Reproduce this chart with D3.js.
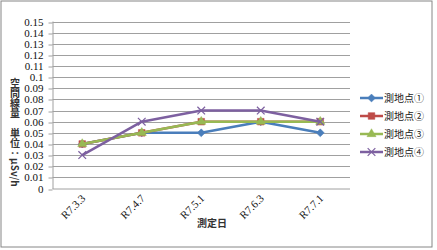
<!DOCTYPE html>
<html><head><meta charset="utf-8">
<script src="https://cdn.jsdelivr.net/npm/d3@7"></script>
<style>body{margin:0;background:#fff}svg{display:block}</style>
</head><body>
<svg id="c" width="437" height="250"></svg>
<script>
const categories = ["R7.3.3","R7.4.7","R7.5.1","R7.6.3","R7.7.1"];
const seriesNames = ["測地点①","測地点②","測地点③","測地点④"];
const s1 = [0.04,0.05,0.05,0.06,0.05];
const s2 = [0.04,0.05,0.06,0.06,0.06];
const s3 = [0.04,0.05,0.06,0.06,0.06];
const s4 = [0.03,0.06,0.07,0.07,0.06];
const yTicks = [0,0.01,0.02,0.03,0.04,0.05,0.06,0.07,0.08,0.09,0.1,0.11,0.12,0.13,0.14,0.15];
const yTitle = "空間線量　単位：μSv/h";
const xTitle = "測定日";

const colors = ["#4a7ebb","#be4b48","#98b954","#7d60a0"];
const symbols = [d3.symbolDiamond2, d3.symbolSquare, d3.symbolTriangle, d3.symbolX];
const symSizes = [40, 44, 36, 40];
const series = [s1,s2,s3,s4];

const svg = d3.select("#c");
svg.append("rect").attr("x",1).attr("y",1).attr("width",431).attr("height",246)
  .attr("fill","#fff").attr("stroke","#868686").attr("stroke-width",1);

const L=52.5, R=350, T=21.5, B=188.5;
const x = d3.scalePoint().domain(categories).range([L,R]).padding(0.5);
const y = d3.scaleLinear().domain([0,0.15]).range([B,T]);

// gridlines
svg.append("g").selectAll("line").data(yTicks.filter(d=>d>0)).join("line")
  .attr("x1",L).attr("x2",R).attr("y1",d=>Math.round(y(d))+0.5).attr("y2",d=>Math.round(y(d))+0.5)
  .attr("stroke","#a0a0a0").attr("stroke-width",1);

// y axis
const ya = svg.append("g").attr("transform",`translate(${L},0)`)
  .call(d3.axisLeft(y).tickValues(yTicks).tickSize(4).tickPadding(5).tickFormat(d=>String(+d.toFixed(2))));
ya.select(".domain").attr("stroke","#a0a0a0").attr("d",`M0.5,${T}V${B+0.5}`);
ya.selectAll(".tick line").attr("stroke","#a0a0a0").attr("transform",d=>`translate(0,${Math.round(y(d))+0.5-y(d)})`);
ya.selectAll(".tick text").attr("font-family","'Liberation Serif','Times New Roman',serif")
  .attr("font-size",11).attr("fill","#111");

// x axis
svg.append("line").attr("x1",L).attr("x2",R).attr("y1",B+0.5).attr("y2",B+0.5).attr("stroke","#a0a0a0");
svg.append("g").selectAll("text").data(categories).join("text")
  .attr("transform",d=>`translate(${x(d)+4},199) rotate(-45)`)
  .attr("text-anchor","end").attr("font-family","'Liberation Serif','Times New Roman',serif")
  .attr("font-size",11).attr("fill","#111").text(d=>d);

// titles
svg.append("text").attr("x",212).attr("y",227).attr("text-anchor","middle")
  .attr("font-family","'Noto Sans CJK JP',sans-serif").attr("font-size",10).attr("font-weight","bold")
  .attr("fill","#333").text(xTitle);
svg.append("text").attr("x",15).attr("y",78)
  .style("writing-mode","vertical-rl").style("text-orientation","mixed")
  .attr("font-family","'Noto Sans CJK JP',sans-serif").attr("font-size",10).attr("font-weight","bold")
  .attr("fill","#333").text(yTitle);

// series
const line = d3.line().x((d,i)=>x(categories[i])).y(d=>y(d));
series.forEach((s,k)=>{
  const g = svg.append("g");
  g.append("path").datum(s).attr("d",line).attr("fill","none")
    .attr("stroke",colors[k]).attr("stroke-width",2.5).attr("stroke-linejoin","round");
  g.selectAll("path.m").data(s).join("path").attr("class","m")
    .attr("transform",(d,i)=>`translate(${x(categories[i])},${y(d)})`)
    .attr("d",d3.symbol().type(symbols[k]).size(symSizes[k]))
    .attr("fill",k===3?"none":colors[k]).attr("stroke",colors[k]).attr("stroke-width",k===3?1.2:0.5);
});

// legend
const ly = [98,116,134,152];
const lg = svg.append("g");
seriesNames.forEach((n,k)=>{
  lg.append("line").attr("x1",360).attr("x2",383).attr("y1",ly[k]).attr("y2",ly[k])
    .attr("stroke",colors[k]).attr("stroke-width",2.5);
  lg.append("path").attr("transform",`translate(371.5,${ly[k]})`)
    .attr("d",d3.symbol().type(symbols[k]).size(symSizes[k]))
    .attr("fill",k===3?"none":colors[k]).attr("stroke",colors[k]).attr("stroke-width",k===3?1.2:0.5);
  lg.append("text").attr("x",384).attr("y",ly[k]).attr("dy","0.35em")
    .attr("font-family","'Noto Sans CJK JP',sans-serif").attr("font-size",10)
    .attr("fill","#222").text(n);
});
</script>
</body></html>
